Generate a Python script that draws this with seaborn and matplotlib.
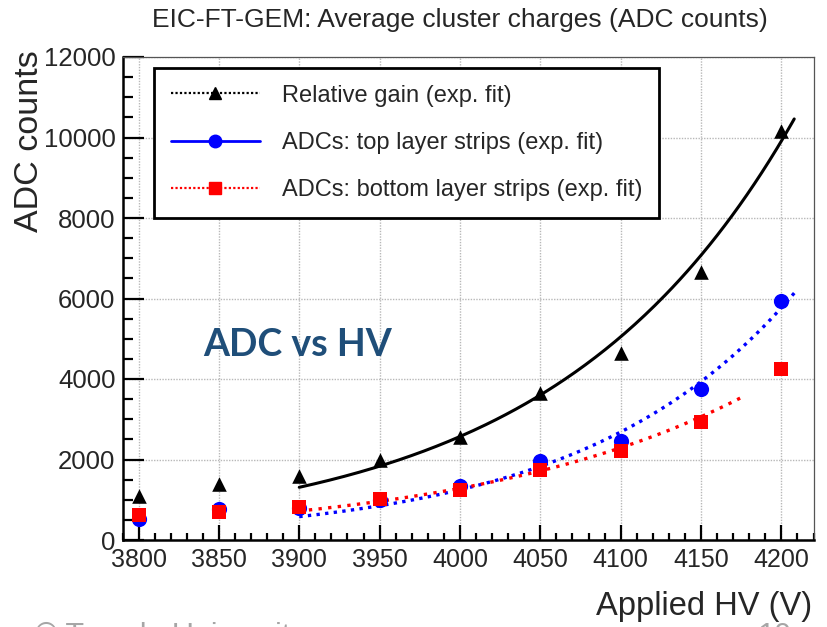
import numpy as np
import pandas as pd
import matplotlib
matplotlib.use("Agg")
import matplotlib.pyplot as plt
from matplotlib.lines import Line2D
from matplotlib.ticker import MultipleLocator
import seaborn as sns

# ---- measurements -------------------------------------------------------
hv = [3800, 3850, 3900, 3950, 4000, 4050, 4100, 4150, 4200]
relative_gain = [1100, 1400, 1600, 2000, 2550, 3650, 4650, 6650, 10150]
adc_top = [520, 760, 800, 1000, 1350, 1970, 2470, 3750, 5950]
adc_bottom = [620, 690, 830, 1030, 1240, 1740, 2200, 2920, 4240]

# exponential fits, ROOT "expo" form: exp(const + slope * HV)
gain_fit = {"const": -19.136, "slope": 0.006747, "range": (3900, 4208)}
top_fit = {"const": -23.499, "slope": 0.007657, "range": (3900, 4209)}
bottom_fit = {"const": -16.002, "slope": 0.005790, "range": (3900, 4177)}

legend_labels = [
    "Relative gain (exp. fit)",
    "ADCs: top layer strips (exp. fit)",
    "ADCs: bottom layer strips (exp. fit)",
]

sns.set_theme(style="white")
plt.rcParams["font.family"] = ["Liberation Sans", "DejaVu Sans"]

W, H = 827, 627
fig = plt.figure(figsize=(W / 100, H / 100), dpi=100)
ax = fig.add_axes([122.5 / W, 1 - 540 / H, (813.5 - 122.5) / W, (540 - 57) / H])

df = pd.DataFrame({"hv": hv, "gain": relative_gain,
                   "top": adc_top, "bottom": adc_bottom})


def fit_frame(p):
    x = np.linspace(p["range"][0], p["range"][1], 200)
    return pd.DataFrame({"hv": x, "adc": np.exp(p["const"] + p["slope"] * x)})


# fitted curves
sns.lineplot(data=fit_frame(gain_fit), x="hv", y="adc", ax=ax, color="black",
             lw=2.2, legend=False, zorder=3)
sns.lineplot(data=fit_frame(top_fit), x="hv", y="adc", ax=ax, color="#0000ff",
             lw=2.4, linestyle=(0, (1, 1.6)), legend=False, zorder=3)
sns.lineplot(data=fit_frame(bottom_fit), x="hv", y="adc", ax=ax, color="#ff0000",
             lw=2.4, linestyle=(0, (1, 1.9)), legend=False, zorder=3)

# measured points
sns.scatterplot(data=df, x="hv", y="gain", ax=ax, marker="^", color="black",
                s=110, linewidth=0, legend=False, zorder=4)
sns.scatterplot(data=df, x="hv", y="top", ax=ax, marker="o", color="#0000ff",
                s=120, linewidth=0, legend=False, zorder=4)
sns.scatterplot(data=df, x="hv", y="bottom", ax=ax, marker="s", color="#ff0000",
                s=110, linewidth=0, legend=False, zorder=5)

ax.set_xlim(3790, 4220)
ax.set_ylim(0, 12000)
ax.set_xlabel("")
ax.set_ylabel("")

ax.xaxis.set_major_locator(MultipleLocator(50))
ax.xaxis.set_minor_locator(MultipleLocator(10))
ax.yaxis.set_major_locator(MultipleLocator(2000))
ax.yaxis.set_minor_locator(MultipleLocator(500))
ax.tick_params(axis="x", which="major", direction="in", length=10.8, width=1.6,
               labelsize=18, pad=6, bottom=True, top=False, color="black")
ax.tick_params(axis="x", which="minor", direction="in", length=5.2, width=1.6,
               bottom=True, top=False, color="black")
ax.tick_params(axis="y", which="major", direction="in", length=15, width=1.6,
               labelsize=18.5, pad=5, left=True, right=False, color="black")
ax.tick_params(axis="y", which="minor", direction="in", length=7.4, width=1.6,
               left=True, right=False, color="black")

ax.grid(True, which="major", color="#b8b8b8", linestyle=(0, (1, 1)), lw=1.0)
ax.set_axisbelow(True)

for side in ("left", "bottom"):
    ax.spines[side].set_linewidth(1.8)
    ax.spines[side].set_color("black")
for side in ("top", "right"):
    ax.spines[side].set_linewidth(0.9)
    ax.spines[side].set_color("#555555")

# legend (styles as in the ROOT legend)
handles = [
    Line2D([], [], color="black", lw=1.6, linestyle=(0, (1, 1)), marker="^",
           markersize=9),
    Line2D([], [], color="#0000ff", lw=2.0, linestyle="-", marker="o",
           markersize=9),
    Line2D([], [], color="#ff0000", lw=1.6, linestyle=(0, (1, 1)), marker="s",
           markersize=9),
]
leg = ax.legend(handles, legend_labels, loc="upper left",
                bbox_to_anchor=((154 - 122.5) / 691, (540 - 68) / 483),
                borderaxespad=0, fontsize=17, handlelength=3.8,
                handletextpad=0.9, labelspacing=1.07, borderpad=0.7,
                frameon=True, fancybox=False, framealpha=1, edgecolor="black")
leg.get_frame().set_linewidth(2.0)
leg.set_zorder(6)

# annotation inside the frame
fig.text(203 / W, 1 - 345 / H, "ADC vs HV", ha="left", va="center",
         fontsize=27, fontweight="bold", color="#1f4e79",
         family=["Lato", "DejaVu Sans"])

# titles
fig.text(460 / W, 1 - 20 / H, "EIC-FT-GEM: Average cluster charges (ADC counts)",
         ha="center", va="center", fontsize=19)
fig.text(30 / W, 1 - 50 / H, "ADC counts", rotation=90, ha="center", va="top",
         fontsize=24.5)
fig.text(812 / W, 1 - 606 / H, "Applied HV (V)", ha="right", va="center",
         fontsize=23.5)

# footer of the slide, running off the bottom edge
fig.text(35 / W, 1 - 645 / H, "\u00a9 Temple University", ha="left",
         va="baseline", fontsize=22, color="#a6a6a6")
fig.text(792 / W, 1 - 645 / H, "10", ha="right", va="baseline",
         fontsize=22, color="#a6a6a6")

fig.savefig("out.png", dpi=100)
